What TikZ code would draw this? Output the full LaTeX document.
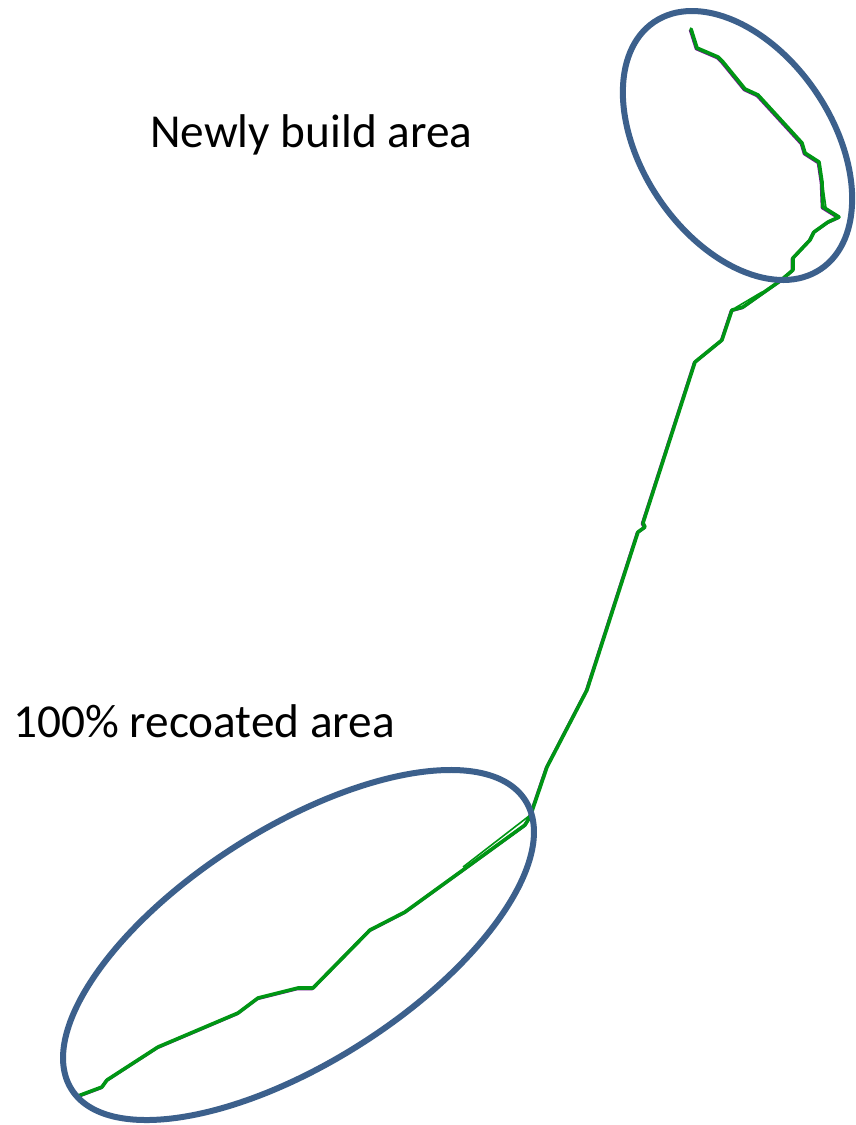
\documentclass[tikz,border=0pt]{standalone}
\usepackage{fontspec}
\setmainfont{Carlito}
\begin{document}
\begin{tikzpicture}[x=1pt,y=-1pt,
  ring/.style={draw={rgb,255:red,60;green,96;blue,140},line width=6pt},
  track/.style={draw={rgb,255:red,0;green,150;blue,20},line width=3.6pt,line join=round,line cap=round},
  under/.style={draw={rgb,255:red,110;green,20;blue,140},line width=3pt,line join=round},
  thin/.style={draw={rgb,255:red,0;green,150;blue,20},line width=1.6pt},
  label/.style={anchor=base west,inner sep=0pt,font=\fontsize{47.3}{52}\selectfont}]
\useasboundingbox (0,0) rectangle (856,1125);
\fill[white] (0,0) rectangle (856,1125);
\def\trackpath{(691,29) -- (697,48) -- (718,57) -- (723,62) -- (745,89) -- (758,95) -- (802,143) -- (805,153) -- (819,162) -- (822,182) -- (823,207) -- (839,217) -- (828,222) -- (814,232) -- (810,240) -- (793,258) -- (793,270) -- (780,281) -- (760,295) -- (743,307) -- (732,310) -- (722,340) -- (695,362) -- (643,523) -- (645,527) -- (638,532) -- (587,690) -- (547,767) -- (530,817) -- (525,825) -- (463,870) -- (405,912) -- (370,930) -- (313,988) -- (298,988) -- (258,998) -- (238,1013) -- (158,1047) -- (107,1080) -- (102,1087) -- (78,1096)}
\draw[under,shift={(-0.8,0.8)}] \trackpath;
\draw[track] \trackpath;
\coordinate (t1) at (529,816);
\coordinate (t2) at (463,867);
\draw[thin] (t1) -- (t2);
\coordinate (u1) at (822,180);
\coordinate (u2) at (826,208);
\draw[thin] (u1) -- (u2);
\coordinate (v1) at (762,292);
\coordinate (v2) at (735,308);
\draw[thin] (v1) -- (v2);
% ellipses
\draw[ring,rotate around={-56:(737.5,145.5)}] (737.5,145.5) ellipse [x radius=149, y radius=95];
\draw[ring,rotate around={32.5:(298.5,945)}] (298.5,945) ellipse [x radius=269, y radius=117];
% labels
\node[label] (new) at (150,147) {Newly build area};
\node[label] (old) at (13,737) {100\% recoated area};
\end{tikzpicture}
\end{document}
